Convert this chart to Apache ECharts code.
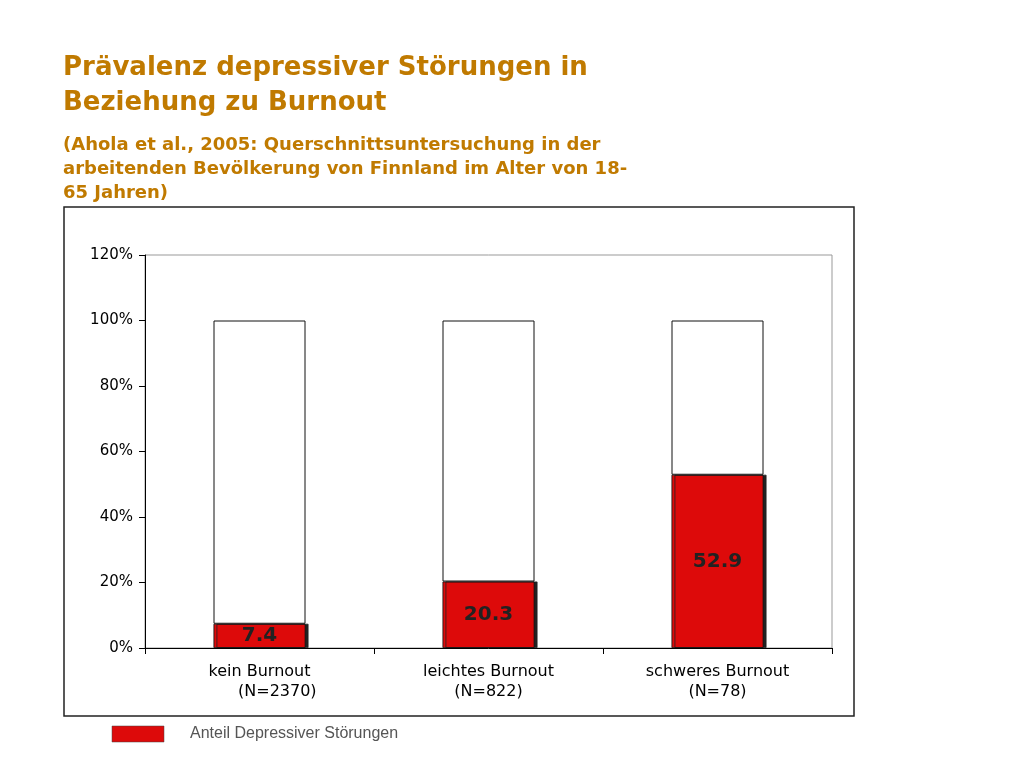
<!DOCTYPE html>
<html>
<head>
<meta charset="utf-8">
<script src="https://cdn.jsdelivr.net/npm/echarts@6/dist/echarts.min.js"></script>
<style>
  html, body { margin: 0; padding: 0; background: #fff; }
  #chart { width: 1024px; height: 768px; }
</style>
</head>
<body>
<div id="chart"></div>
<script>
// data
const categories = ['kein Burnout\n       (N=2370)', 'leichtes Burnout\n(N=822)', 'schweres Burnout\n(N=78)']
const depressive = [7.4, 20.3, 52.9]
const rest = depressive.map(v => +(100 - v).toFixed(1))
const yTicks = [0, 20, 40, 60, 80, 100, 120]

const orange = '#c07a00'
const font = 'DejaVu Sans'

let chart = echarts.init(document.getElementById('chart'))
chart.setOption({
  animation: false,
  textStyle: { fontFamily: font },
  title: [
    {
      text: 'Prävalenz depressiver Störungen in\nBeziehung zu Burnout',
      left: 58, top: 46,
      textStyle: { color: orange, fontSize: 26, fontWeight: 'bold', lineHeight: 35, fontFamily: font }
    },
    {
      text: '(Ahola et al., 2005: Querschnittsuntersuchung in der\narbeitenden Bevölkerung von Finnland im Alter von 18-\n65 Jahren)',
      left: 58, top: 128,
      textStyle: { color: orange, fontSize: 18, fontWeight: 'bold', lineHeight: 24, fontFamily: font }
    }
  ],
  graphic: [
    { type: 'rect', shape: { x: 64, y: 207, width: 790, height: 509 },
      style: { fill: 'none', stroke: '#222', lineWidth: 1.5 }, z: -1 },
    { type: 'rect', shape: { x: 112, y: 726, width: 52, height: 16 },
      style: { fill: '#dd0a0a', stroke: '#444', lineWidth: 0.5 } },
    { type: 'text', left: 190, top: 726,
      style: { text: 'Anteil Depressiver Störungen', fill: '#555', fontSize: 16, fontFamily: 'Liberation Sans' } }
  ],
  grid: { left: 145, right: 1024 - 832, top: 255, bottom: 768 - 648, show: true, borderColor: '#999', borderWidth: 1 },
  xAxis: {
    type: 'category', data: categories,
    axisLine: { lineStyle: { color: '#000' } },
    axisTick: { show: true, length: 6, lineStyle: { color: '#000' } },
    axisLabel: { color: '#000', fontSize: 16, lineHeight: 20, margin: 14 }
  },
  yAxis: {
    type: 'value', min: 0, max: 120, interval: 20,
    axisLine: { show: true, lineStyle: { color: '#000' } },
    axisTick: { show: true, length: 6, lineStyle: { color: '#000' } },
    splitLine: { show: false },
    axisLabel: { color: '#000', fontSize: 15, margin: 12, formatter: v => yTicks.includes(v) ? v + '%' : '' }
  },
  series: [
    {
      type: 'bar', stack: 'a', data: depressive, barWidth: 92,
      itemStyle: { color: '#dd0a0a', borderColor: '#111', borderWidth: 0.8,
        shadowColor: '#222', shadowOffsetX: 3, shadowBlur: 0 },
      label: { show: true, position: 'inside', color: '#222', fontSize: 20, fontWeight: 'bold' }
    },
    {
      type: 'bar', stack: 'a', data: rest, barWidth: 92,
      itemStyle: { color: '#fff', borderColor: '#111', borderWidth: 1 }
    }
  ]
})
</script>
</body>
</html>
